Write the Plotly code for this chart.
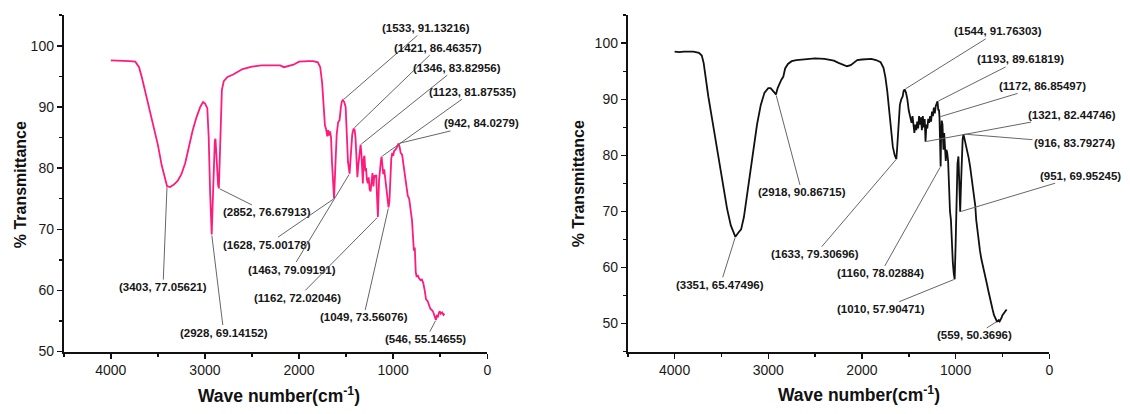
import plotly.graph_objects as go

# ---------------- data ----------------
left_wn = [4000, 3900, 3800, 3740, 3700, 3670, 3620, 3580, 3540, 3500, 3460, 3430, 3403, 3370, 3330,
           3290, 3250, 3210, 3170, 3130, 3090, 3050, 3020, 3000, 2975, 2960, 2945, 2935, 2928, 2918,
           2905, 2895, 2888, 2880, 2870, 2860, 2852, 2845, 2835, 2820, 2800, 2760, 2700, 2650, 2600,
           2500, 2400, 2300, 2200, 2160, 2120, 2060, 2000, 1950, 1900, 1850, 1800, 1775, 1755, 1740,
           1725, 1712, 1700, 1690, 1680, 1670, 1660, 1650, 1640, 1628, 1615, 1600, 1585, 1570, 1555,
           1545, 1533, 1520, 1505, 1492, 1480, 1463, 1450, 1435, 1421, 1410, 1400, 1390, 1380, 1370,
           1360, 1346, 1338, 1330, 1322, 1314, 1305, 1296, 1288, 1280, 1270, 1260, 1250, 1240, 1230,
           1220, 1210, 1200, 1190, 1180, 1172, 1162, 1150, 1140, 1130, 1123, 1115, 1105, 1095, 1085,
           1075, 1065, 1055, 1049, 1040, 1030, 1020, 1010, 1000, 990, 975, 960, 950, 942, 932,
           920, 905, 890, 875, 860, 845, 830, 815, 800, 790, 780, 770, 760, 750, 740,
           725, 710, 695, 680, 665, 650, 635, 620, 605, 590, 575, 560, 546, 535, 525,
           515, 505, 495, 480, 465, 455]
left_T = [97.6, 97.6, 97.5, 97.4, 96.5, 94.8, 91.5, 88.8, 86.3, 83.8, 80.5, 78.6, 77.06, 76.9, 77.3,
          77.9, 79.0, 80.8, 83.5, 86.2, 88.3, 90.0, 90.8, 90.6, 89.8, 85.0, 76.0, 70.5, 69.14, 74.0,
          82.0, 84.5, 84.8, 82.0, 79.5, 77.2, 76.68, 80.0, 88.0, 92.8, 94.2, 94.9, 95.3, 95.8, 96.2,
          96.6, 96.8, 96.8, 96.8, 96.5, 96.7, 96.9, 97.4, 97.5, 97.5, 97.5, 97.3, 96.5, 94.0, 90.5,
          87.0, 86.3, 85.2, 86.2, 85.3, 86.0, 85.0, 81.0, 77.0, 75.0, 80.0, 85.5, 87.5, 87.8, 90.0,
          90.9, 91.13, 90.8, 90.0, 86.0, 81.0, 79.09, 82.0, 85.5, 86.46, 86.3, 85.0, 80.0, 78.5, 80.5,
          82.0, 83.83, 82.5, 79.0, 77.5, 81.5, 82.0, 79.5, 80.0, 78.2, 77.5, 78.5, 76.5, 76.2, 78.5,
          79.2, 77.0, 78.8, 78.5, 78.9, 75.5, 72.02, 78.0, 80.5, 81.2, 81.88, 80.5, 79.0, 79.8, 78.5,
          77.5, 76.0, 74.0, 73.56, 74.5, 79.0, 81.5, 82.5, 82.0, 82.8, 83.0, 83.4, 83.8, 84.03, 83.5,
          82.5, 82.2, 80.5, 79.5, 77.5, 75.5, 75.0, 73.5, 71.5, 69.0, 66.5, 67.0, 63.0, 62.2, 62.5,
          62.0, 61.7, 61.8, 61.2, 60.0, 58.5, 58.3, 57.5, 57.0, 56.8, 56.5, 55.8, 55.15, 56.0, 55.6,
          56.3, 56.6, 56.2, 56.4, 56.0, 56.2]

right_wn = [4000, 3950, 3900, 3800, 3740, 3710, 3690, 3670, 3640, 3600, 3560, 3520, 3480, 3440, 3400,
            3370, 3351, 3320, 3290, 3260, 3230, 3200, 3160, 3120, 3080, 3040, 3000, 2975, 2950, 2930,
            2918, 2900, 2880, 2860, 2840, 2820, 2790, 2750, 2700, 2600, 2500, 2400, 2300, 2250, 2200,
            2160, 2120, 2080, 2050, 2000, 1950, 1900, 1850, 1800, 1770, 1750, 1730, 1710, 1690, 1670,
            1650, 1640, 1633, 1625, 1610, 1595, 1580, 1565, 1555, 1544, 1530, 1515, 1500, 1490, 1480,
            1470, 1460, 1450, 1440, 1430, 1420, 1410, 1400, 1390, 1380, 1370, 1360, 1350, 1340, 1330,
            1321, 1312, 1302, 1292, 1282, 1272, 1262, 1252, 1242, 1232, 1222, 1212, 1200, 1193, 1185,
            1178, 1172, 1166, 1160, 1154, 1148, 1140, 1130, 1122, 1115, 1105, 1098, 1090, 1080, 1070,
            1060, 1050, 1040, 1030, 1020, 1010, 1000, 990, 980, 970, 962, 951, 942, 932, 925,
            916, 905, 895, 885, 875, 860, 845, 830, 815, 800, 790, 780, 770, 760, 750,
            740, 725, 710, 695, 680, 665, 650, 635, 620, 605, 590, 575, 565, 559, 550,
            540, 530, 520, 510, 500, 485, 470, 455]
right_T = [98.5, 98.4, 98.5, 98.5, 98.3, 97.8, 96.5, 94.0, 90.5, 86.5, 82.5, 78.5, 74.5, 70.5, 67.5,
           66.0, 65.47, 66.2, 66.8, 69.0, 72.5, 76.0, 81.0, 85.5, 89.0, 91.2, 92.0, 92.0, 91.5, 91.0,
           90.87, 92.0, 92.8, 93.5, 94.0, 95.5, 96.3, 96.8, 97.0, 97.2, 97.3, 97.2, 96.9, 96.5, 96.1,
           95.9, 96.1, 96.6, 97.0, 97.1, 97.1, 97.2, 97.0, 96.6, 95.6, 94.0, 91.5, 88.0, 84.5, 81.5,
           80.0, 79.5, 79.31, 81.0, 85.5, 89.0, 90.0, 90.5, 91.5, 91.76, 91.2, 90.0, 88.0, 86.8, 86.5,
           85.8, 87.0, 85.5, 84.0, 85.5, 84.5, 86.0, 84.8, 87.0, 85.5, 86.8, 84.5, 87.0, 85.0, 86.5,
           82.45, 85.5, 84.8, 86.5, 85.8, 87.0, 86.0, 87.8, 87.0, 88.5, 87.5, 88.8, 89.3, 89.62, 88.0,
           88.2, 86.85, 82.0, 78.03, 84.0, 86.2, 85.5, 81.0, 84.0, 82.0, 79.0, 81.0, 80.5, 79.0, 74.0,
           70.0, 68.5, 64.0, 61.0, 59.0, 57.9, 64.0, 72.0, 78.5, 79.8, 76.0, 69.95, 75.0, 82.0, 82.8,
           83.79, 83.0, 82.0, 81.8, 80.5, 79.5, 78.0, 76.0, 74.0, 72.5, 71.0, 68.5, 67.0, 66.0, 64.5,
           63.0, 61.5, 60.5, 59.0, 58.0, 57.0, 55.8, 54.5, 53.5, 52.5, 51.5, 50.8, 50.4, 50.37, 50.4,
           50.6, 50.4, 50.6, 51.0, 51.5, 51.8, 52.2, 52.5]

# peak labels
left_peak_wn = [1533, 1421, 1346, 1123, 942, 2852, 1628, 1463, 1162, 1049, 546, 3403, 2928]
left_peak_T = [91.13216, 86.46357, 83.82956, 81.87535, 84.0279, 76.67913, 75.00178, 79.09191,
               72.02046, 73.56076, 55.14655, 77.05621, 69.14152]
right_peak_wn = [1544, 1193, 1172, 1321, 916, 951, 2918, 3351, 1633, 1160, 1010, 559]
right_peak_T = [91.76303, 89.61819, 86.85497, 82.44746, 83.79274, 69.95245, 90.86715, 65.47496,
                79.30696, 78.02884, 57.90471, 50.3696]

x_tick_vals = [4000, 3000, 2000, 1000, 0]
y_tick_vals = [50, 60, 70, 80, 90, 100]

# ---------------- layout helpers (pixel offsets of label text from its point) ----------------
left_offsets = [(83, -72), (84, -81), (96, -77), (91, -65), (83, -20), (48, 24), (-67, 46),
                (-58, 96), (-80, 81), (-25, 110), (-10, 19), (-4, 101), (12, 98)]
right_offsets = [(93, -58), (83, -42), (103, -31), (146, -27), (111, 9), (120, -36), (26, 98),
                 (-15, 48), (-81, 95), (-60, 107), (-74, 30), (-22, 14)]

FONT = "Liberation Sans, Arial, sans-serif"
W, H = 1130, 414


def px_x(p):
    return p / W


def px_y(p):
    return (H - p) / H


fig = go.Figure()
fig.add_trace(go.Scatter(x=left_wn, y=left_T, mode="lines", xaxis="x", yaxis="y",
                         line=dict(color="#FF1B7B", width=1.8), showlegend=False))
fig.add_trace(go.Scatter(x=right_wn, y=right_T, mode="lines", xaxis="x2", yaxis="y2",
                         line=dict(color="#111111", width=1.8), showlegend=False))

annotations = []


def add_labels(wns, Ts, offs, xr, yr):
    for wn, t, (dx, dy) in zip(wns, Ts, offs):
        annotations.append(dict(
            x=wn, y=t, xref=xr, yref=yr, text=f"({wn}, {t})",
            showarrow=True, arrowhead=0, arrowwidth=1, arrowcolor="#666666",
            ax=dx, ay=dy, axref="pixel", ayref="pixel", standoff=1,
            font=dict(family=FONT, size=11.5, color="#161616", weight="bold"),
        ))


add_labels(left_peak_wn, left_peak_T, left_offsets, "x", "y")
add_labels(right_peak_wn, right_peak_T, right_offsets, "x2", "y2")

title_font_x = dict(family=FONT, size=17.5, color="#111111", weight="bold")
title_font_y = dict(family=FONT, size=16, color="#111111", weight="bold")
xt = "Wave number(cm<sup>-1</sup>)"
annotations += [
    dict(x=px_x(280), y=px_y(403), xref="paper", yref="paper", text=xt, showarrow=False,
         xanchor="center", yanchor="middle", font=title_font_x),
    dict(x=px_x(862), y=px_y(402), xref="paper", yref="paper", text=xt, showarrow=False,
         xanchor="center", yanchor="middle", font=title_font_x),
    dict(x=px_x(20), y=px_y(188), xref="paper", yref="paper", text="% Transmittance",
         showarrow=False, textangle=-90, xanchor="center", yanchor="middle", font=title_font_y),
    dict(x=px_x(580), y=px_y(187), xref="paper", yref="paper", text="% Transmittance",
         showarrow=False, textangle=-90, xanchor="center", yanchor="middle", font=title_font_y),
]

tickfont = dict(family=FONT, size=14, color="#1a1a1a")


def xaxis(domain, anchor):
    return dict(domain=domain, anchor=anchor, range=[4500, 0], tickvals=x_tick_vals,
                ticks="outside", ticklen=5, tickwidth=1.5, tickcolor="#111",
                showline=True, linewidth=2, linecolor="#111", showgrid=False, zeroline=False,
                tickfont=tickfont,
                minor=dict(dtick=500, tick0=0, ticks="outside", ticklen=3, tickwidth=1.5,
                           tickcolor="#111", showgrid=False))


def yaxis(domain, anchor, rng):
    return dict(domain=domain, anchor=anchor, range=rng, tickvals=y_tick_vals,
                ticks="outside", ticklen=5, tickwidth=1.5, tickcolor="#111",
                showline=True, linewidth=2, linecolor="#111", showgrid=False, zeroline=False,
                tickfont=tickfont,
                minor=dict(dtick=5, tick0=0, ticks="outside", ticklen=3, tickwidth=1.5,
                           tickcolor="#111", showgrid=False))


ydom = [px_y(358.5), px_y(15.5)]
fig.update_layout(
    width=W, height=H,
    margin=dict(l=0, r=0, t=0, b=0),
    paper_bgcolor="white", plot_bgcolor="white",
    xaxis=xaxis([px_x(64), px_x(489)], "y"),
    yaxis=yaxis(ydom, "x", [50, 105]),
    xaxis2=xaxis([px_x(630), px_x(1053)], "y2"),
    yaxis2=yaxis(ydom, "x2", [45, 105]),
    annotations=annotations,
    showlegend=False,
    hovermode=False,
)

# remove the page's default body margin so the figure fills the window exactly
fig.write_html("out.html",
               config={"displayModeBar": False, "staticPlot": True},
               post_script="document.body.style.margin='0';document.body.style.overflow='hidden';")
